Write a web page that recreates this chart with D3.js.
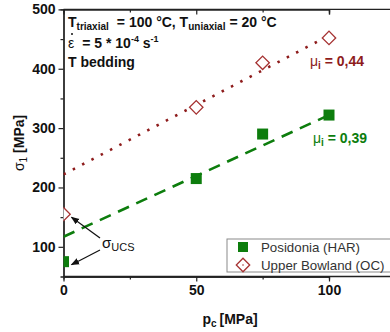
<!DOCTYPE html>
<html>
<head>
<meta charset="utf-8">
<script src="https://cdn.jsdelivr.net/npm/d3@7"></script>
<style>
  body { margin: 0; background: #fff; }
  svg { display: block; font-family: "Liberation Sans", Arial, sans-serif; }
</style>
</head>
<body>
<div id="chart"></div>
<script>
// confining pressure [MPa]
const pc = [0, 50, 75, 100];
// sigma_1 [MPa]
const posidonia = [75, 215, 290, 322];
const bowland = [155, 335, 410, 452];
// linear fits (value at pc = 0 and pc = 100)
const fitPc = [0, 100];
const posidoniaFit = [117, 322];
const bowlandFit = [222, 456];
const xTicks = [0, 50, 100];
const yTicks = [100, 200, 300, 400, 500];
const seriesNames = ["Posidonia (HAR)", "Upper Bowland (OC)"];

const green = "#0d7d0d", red = "#8e1c1c", redMark = "#a63333";
const width = 390, height = 332;

const svg = d3.select("#chart").append("svg")
  .attr("width", width).attr("height", height);

const x = d3.scaleLinear().domain([0, 100]).range([63.5, 329]);
const y = d3.scaleLinear().domain([50, 500]).range([276.5, 9.4]);
const right = 400;

svg.append("clipPath").attr("id", "clip")
  .append("rect")
  .attr("x", x(0)).attr("y", y(500))
  .attr("width", right - x(0)).attr("height", y(50) - y(500));

// axes
svg.append("g").attr("transform", `translate(0,${y(50)})`)
  .call(d3.axisBottom(x).tickValues(xTicks).tickSize(5).tickSizeOuter(0).tickPadding(4));
svg.append("g").attr("transform", `translate(0,${y(50)})`)
  .call(d3.axisBottom(x).tickValues([25, 75]).tickSize(3).tickFormat(""));
svg.append("g").attr("transform", `translate(${x(0)},0)`)
  .call(d3.axisLeft(y).tickValues(yTicks).tickSize(5).tickSizeOuter(0).tickPadding(3));
svg.append("g").attr("transform", `translate(${x(0)},0)`)
  .call(d3.axisLeft(y).tickValues([150, 250, 350, 450]).tickSize(3).tickFormat(""));
// top axis with inward ticks
svg.append("g").attr("transform", `translate(0,${y(500)})`)
  .call(d3.axisTop(x).tickValues([50, 100]).tickSize(-5).tickFormat(""));
svg.append("g").attr("transform", `translate(0,${y(500)})`)
  .call(d3.axisTop(x).tickValues([25, 75]).tickSize(-3).tickFormat(""));
svg.append("line")
  .attr("x1", x(0)).attr("x2", right).attr("y1", y(500)).attr("y2", y(500))
  .attr("stroke", "#222").attr("stroke-width", 1.3);
svg.append("line")
  .attr("x1", x(0)).attr("x2", right).attr("y1", y(50)).attr("y2", y(50))
  .attr("stroke", "#222").attr("stroke-width", 1.3);

svg.selectAll(".domain").attr("stroke", "#222").attr("stroke-width", 1.3);
svg.selectAll(".tick line").attr("stroke", "#222").attr("stroke-width", 1.2);
svg.selectAll(".tick text")
  .attr("font-size", 14).attr("font-weight", "bold").attr("fill", "#111")
  .attr("font-family", "Liberation Sans, Arial, sans-serif");

// axis titles
svg.append("text")
  .attr("x", 230).attr("y", 324)
  .attr("text-anchor", "middle")
  .attr("font-size", 14).attr("font-weight", "bold").attr("fill", "#111")
  .call(t => {
    t.append("tspan").text("p");
    t.append("tspan").attr("font-size", 10).attr("dy", 3).text("c");
    t.append("tspan").attr("dy", -3).attr("dx", 3).text("[MPa]");
  });
svg.append("text")
  .attr("transform", `translate(24,${(y(50) + y(500)) / 2}) rotate(-90)`)
  .attr("text-anchor", "middle")
  .attr("font-size", 14).attr("fill", "#111")
  .call(t => {
    t.append("tspan").text("σ");
    t.append("tspan").attr("font-size", 10).attr("dy", 3).text("1");
    t.append("tspan").attr("dy", -3).attr("dx", 4).attr("font-weight", "bold").text("[MPa]");
  });

const plot = svg.append("g").attr("clip-path", "url(#clip)");

// fit lines
const line = d3.line().x(d => x(d[0])).y(d => y(d[1]));
plot.append("path")
  .attr("d", line(fitPc.map((p, i) => [p, bowlandFit[i]])))
  .attr("fill", "none").attr("stroke", red).attr("stroke-width", 2.6)
  .attr("stroke-dasharray", "2.5,8");
plot.append("path")
  .attr("d", line(fitPc.map((p, i) => [p, posidoniaFit[i]])))
  .attr("fill", "none").attr("stroke", green).attr("stroke-width", 2.6)
  .attr("stroke-dasharray", "12,8");

// markers
plot.selectAll(".sq").data(pc).enter().append("rect")
  .attr("x", d => x(d) - 5.5).attr("y", (d, i) => y(posidonia[i]) - 5.5)
  .attr("width", 11).attr("height", 11).attr("fill", green);
const diamond = d3.symbol().type(d3.symbolSquare).size(90);
plot.selectAll(".dm").data(pc).enter().append("path")
  .attr("d", diamond)
  .attr("transform", (d, i) => `translate(${x(d)},${y(bowland[i])}) rotate(45)`)
  .attr("fill", "#fff").attr("stroke", redMark).attr("stroke-width", 1.3);

// annotations
const ann = svg.append("g").attr("font-size", 14).attr("font-weight", "bold").attr("fill", "#111");
ann.append("text").attr("x", 68).attr("y", 27).call(t => {
  t.append("tspan").text("T");
  t.append("tspan").attr("font-size", 10).attr("dy", 3).text("triaxial");
  t.append("tspan").attr("dy", -3).attr("dx", 8).text("= 100 °C, T");
  t.append("tspan").attr("font-size", 10).attr("dy", 3).text("uniaxial");
  t.append("tspan").attr("dy", -3).attr("dx", 4).text("= 20 °C");
});
ann.append("text").attr("x", 68).attr("y", 48).call(t => {
  t.append("tspan").attr("font-weight", "normal").text("ε");
  t.append("tspan").attr("dx", 8).text("= 5 * 10");
  t.append("tspan").attr("font-size", 9).attr("dy", -6).text("-4");
  t.append("tspan").attr("dy", 6).text(" s");
  t.append("tspan").attr("font-size", 9).attr("dy", -6).text("-1");
});
ann.append("circle").attr("cx", 72).attr("cy", 34).attr("r", 1);
ann.append("text").attr("x", 68).attr("y", 67).text("T bedding");

svg.append("text").attr("x", 310).attr("y", 66)
  .attr("font-size", 14).attr("font-weight", "bold").attr("fill", red)
  .call(t => {
    t.append("tspan").attr("font-weight", "normal").text("μ");
    t.append("tspan").attr("font-size", 10).attr("dy", 3).text("i");
    t.append("tspan").attr("dy", -3).text(" = 0,44");
  });
svg.append("text").attr("x", 313).attr("y", 143)
  .attr("font-size", 14).attr("font-weight", "bold").attr("fill", green)
  .call(t => {
    t.append("tspan").attr("font-weight", "normal").text("μ");
    t.append("tspan").attr("font-size", 10).attr("dy", 3).text("i");
    t.append("tspan").attr("dy", -3).text(" = 0,39");
  });

// sigma UCS callout
svg.append("defs").append("marker")
  .attr("id", "arr").attr("viewBox", "0 0 10 10").attr("refX", 9).attr("refY", 5)
  .attr("markerWidth", 7).attr("markerHeight", 7).attr("orient", "auto")
  .append("path").attr("d", "M0,1 L10,5 L0,9 Z").attr("fill", "#111");
svg.append("text").attr("x", 102).attr("y", 248)
  .attr("font-size", 15).attr("fill", "#111")
  .call(t => {
    t.append("tspan").text("σ");
    t.append("tspan").attr("font-size", 11).attr("dy", 3).text("UCS");
  });
[[bowland[0], 238], [posidonia[0], 250]].forEach(([v, sy]) => {
  svg.append("line")
    .attr("x1", 100).attr("y1", sy)
    .attr("x2", x(0) + 8).attr("y2", y(v) + 3)
    .attr("stroke", "#111").attr("stroke-width", 1.2)
    .attr("marker-end", "url(#arr)");
});

// legend
const lg = svg.append("g").attr("transform", "translate(227,239)");
lg.append("rect").attr("width", 170).attr("height", 33)
  .attr("fill", "#fff").attr("stroke", "#8a8a8a").attr("stroke-width", 1);
lg.append("rect").attr("x", 16 - 5).attr("y", 8 - 5).attr("width", 10).attr("height", 10).attr("fill", green);
lg.append("path").attr("d", diamond)
  .attr("transform", "translate(16,26) rotate(45)")
  .attr("fill", "#fff").attr("stroke", redMark).attr("stroke-width", 1.3);
lg.append("circle").attr("cx", 16).attr("cy", 26).attr("r", 0.8).attr("fill", redMark);
lg.selectAll(".lt").data(seriesNames).enter().append("text")
  .attr("x", 34).attr("y", (d, i) => 13 + i * 18)
  .attr("font-size", 13.3).attr("fill", "#333").text(d => d);
</script>
</body>
</html>
